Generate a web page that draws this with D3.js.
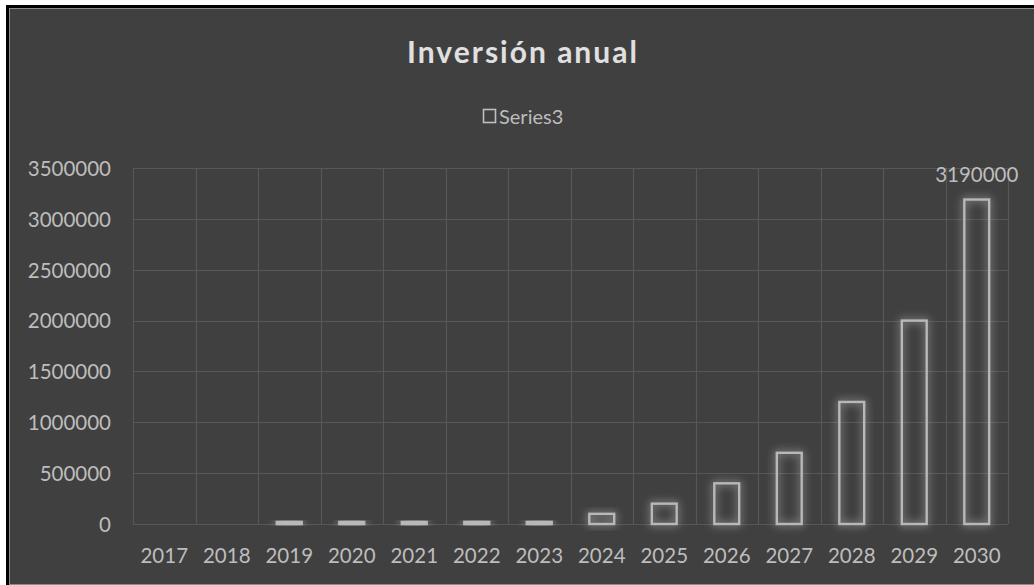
<!DOCTYPE html>
<html><head><meta charset="utf-8">
<script src="https://cdn.jsdelivr.net/npm/d3@7"></script>
<style>
html,body{margin:0;padding:0;background:#fff;}
svg{display:block;}
</style></head>
<body>
<script>
const categories = ["2017","2018","2019","2020","2021","2022","2023","2024","2025","2026","2027","2028","2029","2030"];
const values = [0,0,20000,20000,20000,20000,20000,100000,200000,400000,700000,1200000,2000000,3190000];
const yTicks = [0,500000,1000000,1500000,2000000,2500000,3000000,3500000];
const seriesName = "Series3";
const titleText = "Inversión anual";

const W = 1034, H = 585;
const svg = d3.select("body").append("svg").attr("width", W).attr("height", H);
const font = "Lato, 'Open Sans', sans-serif";
const labelColor = "#bdbdbd";

const defs = svg.append("defs");
const f = defs.append("filter").attr("id","glow").attr("x","-60%").attr("y","-60%").attr("width","220%").attr("height","220%");
f.append("feGaussianBlur").attr("in","SourceGraphic").attr("stdDeviation",4).attr("result","b");
f.append("feComponentTransfer").attr("in","b").attr("result","b2")
  .append("feFuncA").attr("type","linear").attr("slope",1.1);
const m = f.append("feMerge");
m.append("feMergeNode").attr("in","b2");
m.append("feMergeNode").attr("in","SourceGraphic");

// frame
svg.append("rect").attr("x",0).attr("y",0).attr("width",W).attr("height",H).attr("fill","#ffffff");
svg.append("rect").attr("x",6).attr("y",5).attr("width",W-6).attr("height",H-5).attr("fill","#000");
svg.append("rect").attr("x",9.5).attr("y",8.5).attr("width",W-9).attr("height",H-9).attr("fill","#404040")
  .attr("stroke","#8c8c8c").attr("stroke-width",1);

const margin = {left:133, right:1008, top:168, bottom:524};
const x = d3.scaleBand().domain(categories).range([margin.left, margin.right]).paddingInner(0.57).paddingOuter(0.285);
const xg = d3.scaleBand().domain(categories).range([margin.left, margin.right]);
const y = d3.scaleLinear().domain([0,3500000]).range([margin.bottom, margin.top]);

// gridlines
const grid = svg.append("g").attr("stroke","#575757").attr("stroke-width",1.2);
grid.selectAll("line.h").data(yTicks).join("line")
  .attr("x1",margin.left).attr("x2",margin.right)
  .attr("y1",d=>Math.round(y(d))+0.5).attr("y2",d=>Math.round(y(d))+0.5);
const vx = categories.map(c=>xg(c)).concat([margin.right]);
grid.selectAll("line.v").data(vx).join("line")
  .attr("x1",d=>Math.round(d)+0.5).attr("x2",d=>Math.round(d)+0.5)
  .attr("y1",margin.top).attr("y2",margin.bottom);

// axes (text only)
const yAxis = svg.append("g").attr("transform",`translate(${margin.left-22},0)`)
  .call(d3.axisLeft(y).tickValues(yTicks).tickFormat(d3.format("d")).tickSize(0).tickPadding(0));
yAxis.select(".domain").remove();
yAxis.selectAll("text").attr("fill",labelColor).style("font-family",font).style("font-size","20.5px").attr("dy","0.36em");

const xAxis = svg.append("g").attr("transform",`translate(0,${margin.bottom})`)
  .call(d3.axisBottom(xg).tickSize(0).tickPadding(0));
xAxis.select(".domain").remove();
xAxis.selectAll("text").attr("fill",labelColor).style("font-family",font).style("font-size","20.5px")
  .attr("dy",null).attr("y",39);

// bars
svg.append("g").selectAll("rect").data(values.map((v,i)=>({c:categories[i],v}))).join("rect")
  .filter(d=>d.v>0)
  .attr("x",d=>x(d.c)+1).attr("width",x.bandwidth()-2)
  .attr("y",d=>y(d.v)).attr("height",d=>Math.max(1,y(0)-y(d.v)))
  .attr("fill","none").attr("stroke","#b8b8b8").attr("stroke-width",2.4)
  .attr("filter","url(#glow)");

// data label
const last = categories.length-1;
svg.append("text").attr("x",x(categories[last])+x.bandwidth()/2).attr("y",y(values[last])-18)
  .attr("text-anchor","middle").attr("fill",labelColor).style("font-family",font).style("font-size","20.5px")
  .text(d3.format("d")(values[last]));

// title
svg.append("text").attr("x",523).attr("y",63).attr("text-anchor","middle")
  .attr("fill","#e0e0e0").style("font-family",font).style("font-size","30px").style("font-weight","bold")
  .style("letter-spacing","2px")
  .text(titleText);

// legend
svg.append("rect").attr("x",483.5).attr("y",109.5).attr("width",12).attr("height",13)
  .attr("fill","none").attr("stroke","#bfbfbf").attr("stroke-width",1.6);
svg.append("text").attr("x",499).attr("y",124).attr("fill",labelColor)
  .style("font-family",font).style("font-size","20px").text(seriesName);
</script>
</body></html>
